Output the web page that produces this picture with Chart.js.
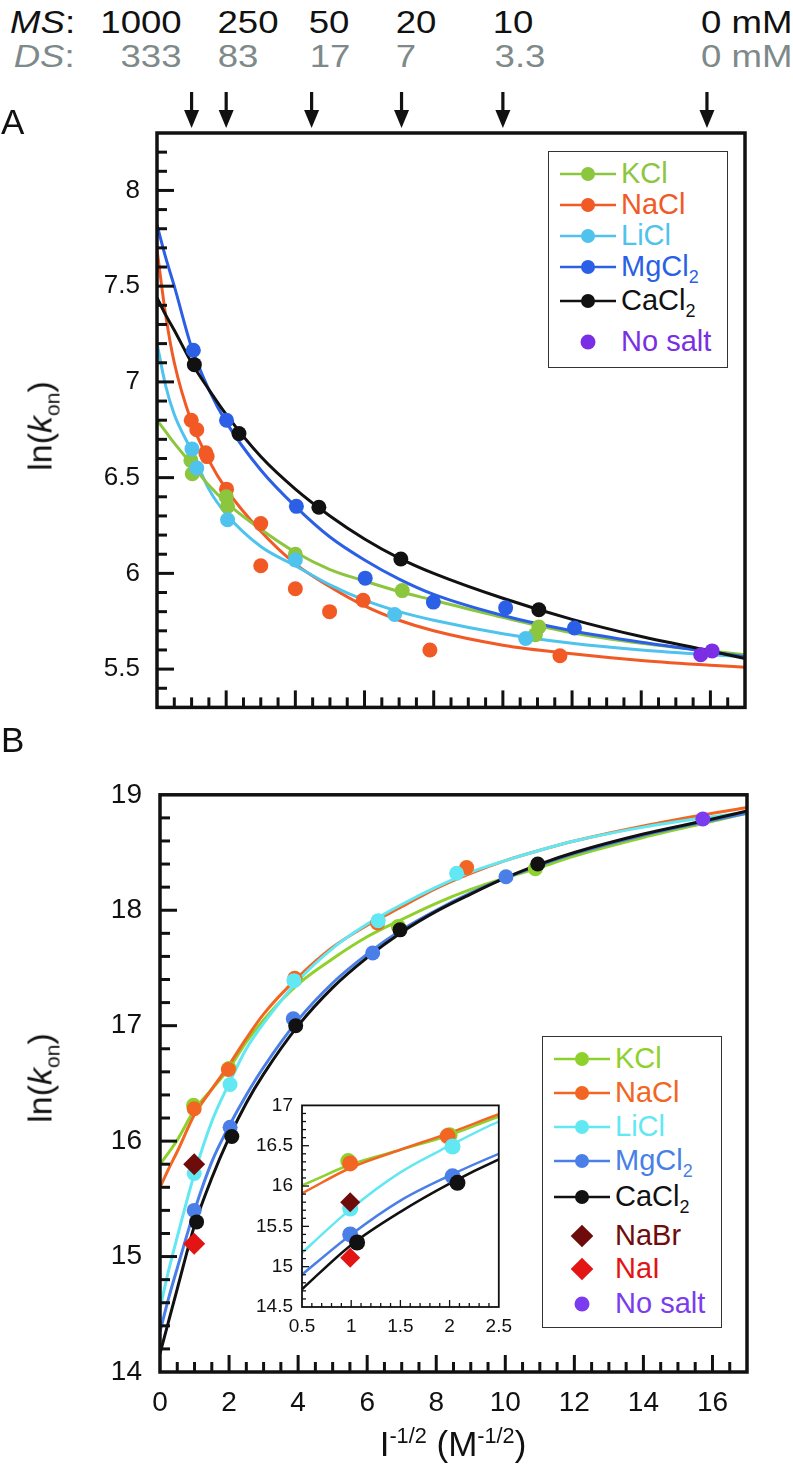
<!DOCTYPE html>
<html>
<head>
<meta charset="utf-8">
<script src="https://cdn.jsdelivr.net/npm/chart.js@4.4.0/dist/chart.umd.min.js"></script>
<style>
  body { margin: 0; background: #fff; font-family: 'Liberation Sans', Arial, sans-serif; color: #111; }
  #page { position: relative; width: 793px; height: 1472px; overflow: hidden; }
  canvas { position: absolute; }
  .hdr { position: absolute; font-size: 31px; line-height: 31px; white-space: nowrap; }
  .ms { color: #111; }
  .ds { color: #7e8a8a; }
  .panel { position: absolute; font-size: 35px; line-height: 35px; }
  .ytitle { position: absolute; font-size: 34px; white-space: nowrap; transform: translate(-50%, -50%) rotate(-90deg); }
  .xtitle { position: absolute; font-size: 35px; white-space: nowrap; transform: translateX(-50%); }
  sup, sub { font-size: 62%; line-height: 0; }
  .legend { position: absolute; border: 1.5px solid #333; background: #fff; box-sizing: border-box; }
  .legend .row { position: absolute; left: 0; height: 30px; transform: translateY(-50%); white-space: nowrap; }
  .legend svg { position: absolute; left: 8px; top: 0; }
  .legend span { position: absolute; top: -3px; font-size: 29px; line-height: 34px; }
</style>
</head>
<body>
<div id="page">
  <canvas id="chartA" width="793" height="660" style="left:0;top:80px"></canvas>
  <canvas id="chartB" width="793" height="712" style="left:0;top:760px"></canvas>
  <canvas id="inset" width="280" height="255" style="left:240px;top:1085px"></canvas>
  <div id="header"></div>
  <div class="panel" style="left:1px;top:104px">A</div>
  <div class="panel" style="left:1px;top:722px">B</div>
  <div class="ytitle" style="left:40px;top:426px">ln(<i>k</i><sub>on</sub>)</div>
  <div class="ytitle" style="left:40px;top:1078px">ln(<i>k</i><sub>on</sub>)</div>
  <div class="xtitle" style="left:453px;top:1424px">I<sup>-1/2</sup> (M<sup>-1/2</sup>)</div>
  <div class="legend" id="legendA" style="left:548px;top:151px;width:180px;height:217px"></div>
  <div class="legend" id="legendB" style="left:542px;top:1036px;width:180px;height:292px"></div>
</div>
<script>
// header: salt concentrations (monovalent / divalent) and where the arrows point
const msLabels = ['1000', '250', '50', '20', '10', '0 mM'];
const dsLabels = ['333', '83', '17', '7', '3.3', '0 mM'];
const arrowX = [1, 2, 4.47, 7.07, 10, 15.9];

// ---- panel A ----
const curveXA = [0, 0.25, 0.5, 1, 1.5, 2, 3, 4, 5, 6, 7, 8, 10, 12, 14, 16, 17];
const kclCurveA = [6.80, 6.74, 6.68, 6.57, 6.46, 6.37, 6.23, 6.11, 6.02, 5.96, 5.905, 5.86, 5.77, 5.69, 5.635, 5.595, 5.575];
const naclCurveA = [7.69, 7.35, 7.10, 6.79, 6.59, 6.44, 6.22, 6.05, 5.93, 5.83, 5.755, 5.70, 5.625, 5.58, 5.545, 5.52, 5.51];
const liclCurveA = [7.20, 6.98, 6.83, 6.64, 6.44, 6.31, 6.14, 6.04, 5.94, 5.86, 5.80, 5.755, 5.685, 5.635, 5.60, 5.575, 5.565];
const mgCurveA = [7.82, 7.65, 7.50, 7.18, 6.96, 6.79, 6.54, 6.35, 6.19, 6.07, 5.97, 5.89, 5.78, 5.70, 5.64, 5.59, 5.565];
const caCurveA = [7.44, 7.35, 7.27, 7.10, 6.96, 6.83, 6.61, 6.44, 6.30, 6.18, 6.08, 6.00, 5.87, 5.76, 5.67, 5.595, 5.555];

const kclXA = [0.98, 1.02, 2.0, 2.04, 4.0, 7.09, 10.94, 11.04];
const kclYA = [6.59, 6.52, 6.40, 6.35, 6.10, 5.91, 5.68, 5.72];
const naclXA = [0.99, 1.15, 1.41, 1.45, 2.01, 3.0, 3.0, 4.0, 4.99, 5.96, 7.89, 11.65];
const naclYA = [6.80, 6.75, 6.63, 6.61, 6.44, 6.26, 6.04, 5.92, 5.80, 5.86, 5.60, 5.57];
const liclXA = [1.01, 1.15, 2.04, 4.0, 6.87, 10.66];
const liclYA = [6.65, 6.55, 6.28, 6.07, 5.785, 5.66];
const mgXA = [1.05, 2.01, 4.03, 6.02, 7.99, 10.08, 12.07];
const mgYA = [7.165, 6.80, 6.35, 5.975, 5.85, 5.82, 5.715];
const caXA = [1.08, 2.37, 4.68, 7.05, 11.04];
const caYA = [7.09, 6.73, 6.345, 6.075, 5.81];
const noSaltXA = [15.72, 16.05];
const noSaltYA = [5.575, 5.595];

const yTicksA = [5.5, 6, 6.5, 7, 7.5, 8];

// ---- panel B ----
const curveXB = [0, 0.25, 0.5, 1, 1.5, 2, 2.5, 3, 4, 5, 6, 7, 8, 9, 10, 11, 12, 14, 16, 17];
const kclCurveB = [15.80, 15.90, 16.01, 16.27, 16.45, 16.63, 16.86, 17.05, 17.36, 17.58, 17.77, 17.92, 18.06, 18.18, 18.28, 18.37, 18.47, 18.63, 18.77, 18.84];
const naclCurveB = [15.60, 15.76, 15.91, 16.23, 16.45, 16.66, 16.89, 17.10, 17.42, 17.68, 17.87, 18.03, 18.19, 18.32, 18.43, 18.52, 18.60, 18.73, 18.84, 18.89];
const liclCurveB = [14.55, 14.88, 15.17, 15.72, 16.17, 16.50, 16.80, 17.02, 17.39, 17.67, 17.88, 18.05, 18.20, 18.33, 18.43, 18.52, 18.60, 18.72, 18.81, 18.85];
const mgCurveB = [14.35, 14.64, 14.90, 15.40, 15.82, 16.13, 16.40, 16.64, 17.05, 17.37, 17.62, 17.83, 18.00, 18.15, 18.28, 18.39, 18.49, 18.65, 18.78, 18.84];
const caCurveB = [14.16, 14.44, 14.72, 15.27, 15.68, 16.03, 16.33, 16.58, 17.00, 17.33, 17.59, 17.81, 17.99, 18.14, 18.28, 18.40, 18.50, 18.66, 18.79, 18.86];

const kclXB = [0.97, 2.0, 3.92, 6.9, 10.87];
const kclYB = [16.31, 16.63, 17.40, 17.86, 18.36];
const naclXB = [0.99, 1.98, 3.9, 6.3, 8.88];
const naclYB = [16.28, 16.62, 17.41, 17.89, 18.37];
const liclXB = [0.99, 2.03, 3.88, 6.32, 8.59];
const liclYB = [15.72, 16.49, 17.39, 17.91, 18.32];
const mgXB = [0.99, 2.03, 3.86, 6.16, 10.02];
const mgYB = [15.40, 16.12, 17.06, 17.63, 18.29];
const caXB = [1.06, 2.08, 3.93, 6.95, 10.94];
const caYB = [15.30, 16.04, 17.00, 17.83, 18.40];
const nabrXB = [0.99];
const nabrYB = [15.80];
const naiXB = [0.99];
const naiYB = [15.11];
const noSaltXB = [15.72];
const noSaltYB = [18.79];

const xTicksB = [0, 2, 4, 6, 8, 10, 12, 14, 16];
const yTicksB = [14, 15, 16, 17, 18, 19];
const xTicksInset = [0.5, 1, 1.5, 2, 2.5];
const yTicksInset = [14.5, 15, 15.5, 16, 16.5, 17];

const legendNamesA = ['KCl', 'NaCl', 'LiCl', 'MgCl<sub>2</sub>', 'CaCl<sub>2</sub>', 'No salt'];
const legendNamesB = ['KCl', 'NaCl', 'LiCl', 'MgCl<sub>2</sub>', 'CaCl<sub>2</sub>', 'NaBr', 'NaI', 'No salt'];

const colA = { kcl: '#8cc63f', nacl: '#f15a24', licl: '#4fc3ee', mg: '#2b5fe6', ca: '#111111', none: '#7a2fe4' };
const colB = { kcl: '#8fd12c', nacl: '#f26522', licl: '#62e8f2', mg: '#4a7fe8', ca: '#111111', nabr: '#6e0c0c', nai: '#e31414', none: '#7b3bef' };

Chart.defaults.font.family = "'Liberation Sans', Arial, sans-serif";
Chart.defaults.color = '#111';

const zip = (xs, ys) => xs.map((x, i) => ({ x, y: ys[i] }));

function curve(xs, ys, color, width, order) {
    return { data: zip(xs, ys), borderColor: color, borderWidth: width, pointRadius: 0,
             showLine: true, cubicInterpolationMode: 'monotone', fill: false, order };
}
function dots(xs, ys, color, radius, order, style) {
    return { data: zip(xs, ys), backgroundColor: color, borderColor: color, borderWidth: 0,
             pointRadius: radius, pointStyle: style || 'circle', showLine: false, order };
}

// frame + inward ticks, like the original plot
const frameTicks = {
    id: 'frameTicks',
    beforeDraw(chart, args, o) {
        if (!o.fill) return;
        const a = chart.chartArea;
        chart.ctx.save();
        chart.ctx.fillStyle = '#fff';
        chart.ctx.fillRect(a.left, a.top, a.width, a.height);
        chart.ctx.restore();
    },
    afterDatasetsDraw(chart, args, o) {
        const { ctx, chartArea: a, scales: { x, y } } = chart;
        const isMult = (v, m) => Math.abs(v / m - Math.round(v / m)) < 1e-6;
        ctx.save();
        ctx.strokeStyle = '#111';
        ctx.lineWidth = o.tickWidth;
        const nx = Math.round((x.max - x.min) / o.xMinor);
        for (let i = 1; i < nx; i++) {
            const v = x.min + i * o.xMinor;
            const px = x.getPixelForValue(v);
            const len = isMult(v, o.xMajor) ? o.major : o.minor;
            ctx.beginPath(); ctx.moveTo(px, a.bottom); ctx.lineTo(px, a.bottom - len); ctx.stroke();
        }
        const ny = Math.round((y.max - y.min) / o.yMinor);
        for (let i = 1; i < ny; i++) {
            const v = y.min + i * o.yMinor;
            const py = y.getPixelForValue(v);
            const len = isMult(v, o.yMajor) ? o.major : o.minor;
            ctx.beginPath(); ctx.moveTo(a.left, py); ctx.lineTo(a.left + len, py); ctx.stroke();
        }
        ctx.lineWidth = o.frameWidth;
        ctx.strokeRect(a.left, a.top, a.width, a.height);
        ctx.restore();
    }
};

const arrows = {
    id: 'arrows',
    afterDraw(chart, args, o) {
        if (!o.values) return;
        const { ctx, chartArea: a, scales: { x } } = chart;
        ctx.save();
        ctx.fillStyle = '#111';
        o.values.forEach(v => {
            const px = x.getPixelForValue(v);
            const tip = a.top - 5;
            ctx.fillRect(px - 1.6, tip - 36, 3.2, 20);
            ctx.beginPath();
            ctx.moveTo(px - 7.5, tip - 18); ctx.lineTo(px + 7.5, tip - 18); ctx.lineTo(px, tip);
            ctx.closePath(); ctx.fill();
        });
        ctx.restore();
    }
};

function axisCfg(min, max, ticks, show, width, font, pad) {
    return {
        type: 'linear', min, max, display: show,
        grid: { display: false, drawTicks: false }, border: { display: false },
        afterBuildTicks: s => { s.ticks = ticks.map(v => ({ value: v })); },
        ticks: { autoSkip: false, maxRotation: 0, padding: pad, font: { size: font },
                 callback: v => String(Number(v)) },
        afterFit: s => { if (s.isHorizontal()) s.height = width; else s.width = width; }
    };
}

const baseOpts = {
    responsive: false, animation: false,
    plugins: { legend: { display: false }, tooltip: { enabled: false } }
};

new Chart(document.getElementById('chartA'), {
    type: 'line',
    data: { datasets: [
        curve(curveXA, naclCurveA, colA.nacl, 3, 20),
        curve(curveXA, liclCurveA, colA.licl, 3, 19),
        curve(curveXA, kclCurveA, colA.kcl, 3, 18),
        curve(curveXA, mgCurveA, colA.mg, 3, 17),
        curve(curveXA, caCurveA, colA.ca, 3, 16),
        dots(naclXA, naclYA, colA.nacl, 7.5, 6),
        dots(kclXA, kclYA, colA.kcl, 7.5, 5),
        dots(liclXA, liclYA, colA.licl, 7.5, 4),
        dots(mgXA, mgYA, colA.mg, 7.5, 3),
        dots(caXA, caYA, colA.ca, 7.5, 2),
        dots(noSaltXA, noSaltYA, colA.none, 7.5, 1)
    ] },
    options: {
        ...baseOpts,
        layout: { padding: { top: 53, right: 48, bottom: 20, left: 0 } },
        scales: {
            x: axisCfg(0, 17, [], false, 0, 26, 0),
            y: axisCfg(5.3, 8.3, yTicksA, true, 157, 26, 17)
        },
        plugins: { ...baseOpts.plugins,
            frameTicks: { tickWidth: 3, xMinor: 0.5, xMajor: 2, yMinor: 0.1, yMajor: 0.5, major: 17, minor: 10, frameWidth: 3.5 },
            arrows: { values: arrowX } }
    },
    plugins: [frameTicks, arrows]
});

new Chart(document.getElementById('chartB'), {
    type: 'line',
    data: { datasets: [
        curve(curveXB, kclCurveB, colB.kcl, 3, 20),
        curve(curveXB, naclCurveB, colB.nacl, 3, 19),
        curve(curveXB, liclCurveB, colB.licl, 3, 18),
        curve(curveXB, mgCurveB, colB.mg, 3, 17),
        curve(curveXB, caCurveB, colB.ca, 3, 16),
        dots(noSaltXB, noSaltYB, colB.none, 7.5, 9),
        dots(kclXB, kclYB, colB.kcl, 7.5, 8),
        dots(naclXB, naclYB, colB.nacl, 7.5, 7),
        dots(liclXB, liclYB, colB.licl, 7.5, 6),
        dots(mgXB, mgYB, colB.mg, 7.5, 5),
        dots(caXB, caYB, colB.ca, 7.5, 4),
        dots(naiXB, naiYB, colB.nai, 11, 3, 'rectRot'),
        dots(nabrXB, nabrYB, colB.nabr, 11, 2, 'rectRot')
    ] },
    options: {
        ...baseOpts,
        layout: { padding: { top: 25, right: 46, bottom: 0, left: 0 } },
        scales: {
            x: axisCfg(0, 17, xTicksB, true, 100, 28, 14),
            y: axisCfg(14, 19, yTicksB, true, 160, 28, 18)
        },
        plugins: { ...baseOpts.plugins,
            frameTicks: { tickWidth: 3, xMinor: 0.5, xMajor: 2, yMinor: 0.2, yMajor: 1, major: 17, minor: 10, frameWidth: 3.5 } }
    },
    plugins: [frameTicks]
});

new Chart(document.getElementById('inset'), {
    type: 'line',
    data: { datasets: [
        curve(curveXB, kclCurveB, colB.kcl, 2.5, 20),
        curve(curveXB, naclCurveB, colB.nacl, 2.5, 19),
        curve(curveXB, liclCurveB, colB.licl, 2.5, 18),
        curve(curveXB, mgCurveB, colB.mg, 2.5, 17),
        curve(curveXB, caCurveB, colB.ca, 2.5, 16),
        dots(kclXB, kclYB, colB.kcl, 8, 8),
        dots(naclXB, naclYB, colB.nacl, 8, 7),
        dots(liclXB, liclYB, colB.licl, 8, 6),
        dots(mgXB, mgYB, colB.mg, 8, 5),
        dots(caXB, caYB, colB.ca, 8, 4),
        dots(naiXB, naiYB, colB.nai, 10, 3, 'rectRot'),
        dots(nabrXB, nabrYB, colB.nabr, 10, 2, 'rectRot')
    ] },
    options: {
        ...baseOpts,
        layout: { padding: { top: 14, right: 10, bottom: 0, left: 0 } },
        scales: {
            x: axisCfg(0.5, 2.5, xTicksInset, true, 33, 19, 8),
            y: axisCfg(14.5, 17, yTicksInset, true, 62, 19, 9)
        },
        plugins: { ...baseOpts.plugins,
            frameTicks: { fill: true, tickWidth: 1.3, xMinor: 0.1, xMajor: 0.5, yMinor: 0.1, yMajor: 0.5, major: 7, minor: 4, frameWidth: 1.8 } }
    },
    plugins: [frameTicks]
});

// header text rows
const header = document.getElementById('header');
const msCenters = [141, 248, 329, 416, 513];
const dsCenters = [151, 238, 330, 406, 520];
function hdrRow(labels, centers, cls, top, key) {
    let html = `<div class="hdr ${cls}" style="right:718px;top:${top}px;transform:scaleX(1.18);transform-origin:right"><i>${key}</i>:</div>`;
    labels.forEach((t, i) => {
        if (i < centers.length) {
            html += `<div class="hdr ${cls}" style="left:${centers[i]}px;top:${top}px;transform:translateX(-50%) scaleX(1.18)">${t}</div>`;
        } else {
            html += `<div class="hdr ${cls}" style="right:1px;top:${top}px;transform:scaleX(1.18);transform-origin:right">${t}</div>`;
        }
    });
    return html;
}
header.innerHTML = hdrRow(msLabels, msCenters, 'ms', 7, 'MS') + hdrRow(dsLabels, dsCenters, 'ds', 41, 'DS');

// legends
function legendMarker(color, kind) {
    let s = '<svg width="62" height="30">';
    if (kind === 'line') s += `<line x1="3" y1="15" x2="59" y2="15" stroke="${color}" stroke-width="2.6"/><circle cx="31" cy="15" r="7" fill="${color}"/>`;
    if (kind === 'dot') s += `<circle cx="31" cy="15" r="7.5" fill="${color}"/>`;
    if (kind === 'diamond') s += `<rect x="23" y="7" width="16" height="16" fill="${color}" transform="rotate(45 31 15)"/>`;
    return s + '</svg>';
}
function buildLegend(id, names, colors, kinds, rowY) {
    document.getElementById(id).innerHTML = names.map((n, i) =>
        `<div class="row" style="top:${rowY[i]}px">${legendMarker(colors[i], kinds[i])}<span style="left:72px;color:${colors[i]}">${n}</span></div>`
    ).join('');
}
buildLegend('legendA', legendNamesA,
    [colA.kcl, colA.nacl, colA.licl, colA.mg, colA.ca, colA.none],
    ['line', 'line', 'line', 'line', 'line', 'dot'],
    [22, 53, 84, 115, 149, 190]);
buildLegend('legendB', legendNamesB,
    [colB.kcl, colB.nacl, colB.licl, colB.mg, colB.ca, colB.nabr, colB.nai, colB.none],
    ['line', 'line', 'line', 'line', 'line', 'diamond', 'diamond', 'dot'],
    [22, 56, 90, 124, 160, 199, 232, 267]);
</script>
</body>
</html>
